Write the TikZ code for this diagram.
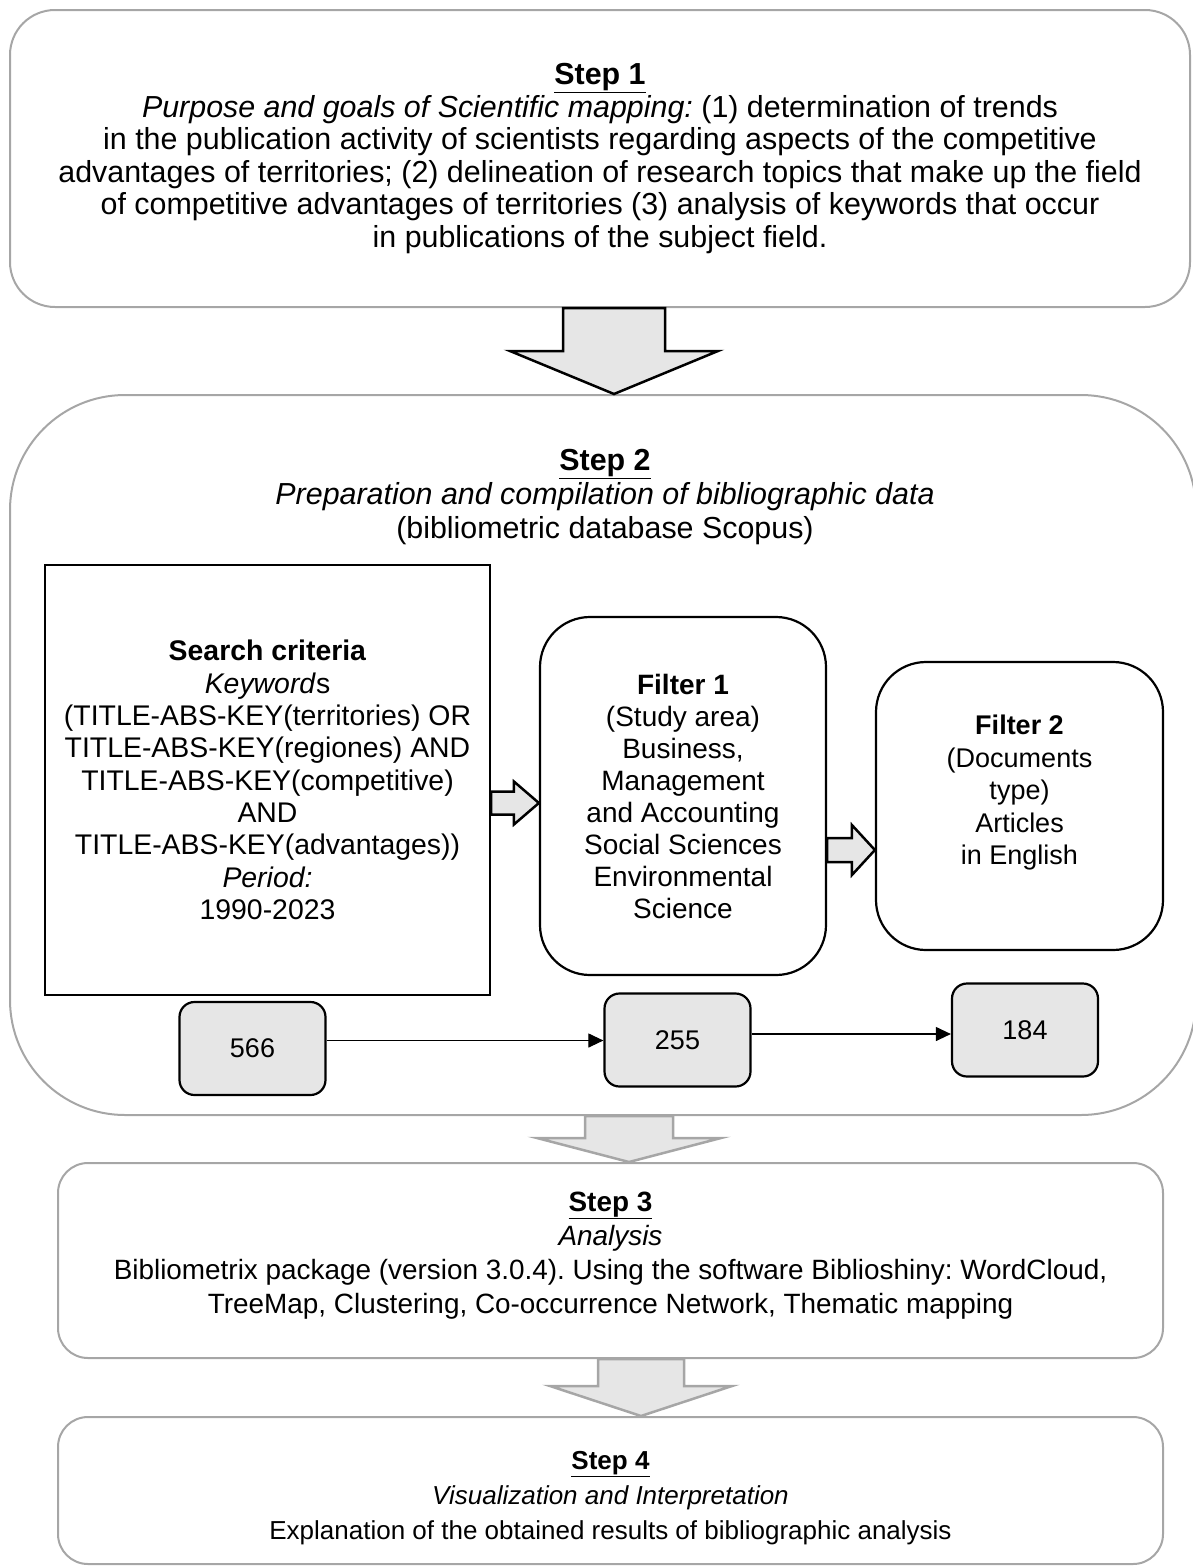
\documentclass[tikz,border=0pt]{standalone}
\usepackage{fontspec}
\setmainfont{Liberation Sans}
\frenchspacing
\usetikzlibrary{arrows.meta,calc,positioning}
\definecolor{boxgrey}{HTML}{A6A6A6}
\definecolor{fillgrey}{HTML}{E6E6E6}
% block arrows: style, from, tip, shaft half width, head half width, head length
\newcommand{\downblock}[6]{%
  \draw[#1] let \p1=(#2), \p2=(#3) in
    (\x2-#4,\y1) -- (\x2+#4,\y1) -- (\x2+#4,\y2+#6) -- (\x2+#5,\y2+#6) -- (\x2,\y2)
    -- (\x2-#5,\y2+#6) -- (\x2-#4,\y2+#6) -- cycle;}
\newcommand{\rightblock}[6]{%
  \draw[#1] let \p1=(#2), \p2=(#3) in
    (\x1,\y2+#4) -- (\x2-#6,\y2+#4) -- (\x2-#6,\y2+#5) -- (\x2,\y2)
    -- (\x2-#6,\y2-#5) -- (\x2-#6,\y2-#4) -- (\x1,\y2-#4) -- cycle;}

\begin{document}
\begin{tikzpicture}[x=1pt,y=-1pt,font=\fontsize{26}{32.5}\selectfont,
    stepbox/.style={draw=boxgrey,line width=2pt,inner sep=0pt,align=center},
    innerbox/.style={draw,line width=2.2pt,inner sep=0pt,align=center},
    countbox/.style={draw,line width=2.2pt,fill=fillgrey,rounded corners=15pt,
      minimum width=146pt,minimum height=93pt,inner sep=0pt,
      font=\fontsize{27}{32.5}\selectfont},
    flow/.style={-{Triangle[length=15pt,width=14pt]},line width=1.1pt},
    bigarrow/.style={draw,line width=2.5pt,fill=fillgrey,line join=miter},
    greyarrow/.style={draw=boxgrey,line width=2.5pt,fill=fillgrey,line join=miter}]
\useasboundingbox (0,0) rectangle (1192,1566);

% Step 1
\node[stepbox,rounded corners=45pt,minimum width=1180pt,minimum height=297pt,
  font=\fontsize{30.4}{32.5}\selectfont] (s1) at (600,158.5)
  {\underline{\textbf{Step 1}}\\
   \textit{Purpose and goals of Scientific mapping:} (1) determination of trends\\
   in the publication activity of scientists regarding aspects of the competitive\\
   advantages of territories; (2) delineation of research topics that make up the field\\
   of competitive advantages of territories (3) analysis of keywords that occur\\
   in publications of the subject field.};

% Step 2
\node[stepbox,rounded corners=115pt,minimum width=1186pt,minimum height=720pt] (s2) at (603,755) {};
\node[align=center,font=\fontsize{30.4}{34}\selectfont] (s2title) at (605,497)
  {\underline{\textbf{Step 2}}\\
   \textit{Preparation and compilation of bibliographic data}\\
   (bibliometric database Scopus)};

\node[innerbox,minimum width=445pt,minimum height=430pt,
  font=\fontsize{28.4}{32.3}\selectfont] (search) at (267.5,780)
  {\textbf{Search criteria}\\
   \textit{Keyword}s\\
   (TITLE-ABS-KEY(territories) OR\\
   TITLE-ABS-KEY(regiones) AND\\
   TITLE-ABS-KEY(competitive)\\
   AND\\
   TITLE-ABS-KEY(advantages))\\
   \textit{Period:}\\
   1990-2023};
\node[innerbox,rounded corners=50pt,minimum width=286pt,minimum height=358pt,
  font=\fontsize{28}{32}\selectfont] (filter1) at (683,796)
  {\textbf{Filter 1}\\
   (Study area)\\
   Business,\\
   Management\\
   and Accounting\\
   Social Sciences\\
   Environmental\\
   Science};
\node[innerbox,rounded corners=50pt,minimum width=287pt,minimum height=288pt] (filter2) at (1019.5,806) {};
\node[align=center,font=\fontsize{27}{32.5}\selectfont] (filter2text) at ([yshift=13pt]filter2.center)
  {\textbf{Filter 2}\\
   (Documents\\
   type)\\
   Articles\\
   in English};

\rightblock{bigarrow}{search.east}{[yshift=-7pt]filter1.west}{11.5pt}{21.5pt}{25pt}
\rightblock{bigarrow}{filter1.east}{[yshift=-44pt]filter2.west}{12pt}{25pt}{23pt}

\node[countbox] (n566) at (252.5,1048.5) {566};
\node[countbox] (n255) at (677.5,1040) {255};
\node[countbox] (n184) at (1025,1030) {184};
\draw[flow] ([yshift=8pt]n566.east) -- ([yshift=8pt]n566.east -| n255.west);
\draw[flow] ([yshift=6pt]n255.east) -- ([yshift=6pt]n255.east -| n184.west);

% Step 3
\node[stepbox,rounded corners=30pt,minimum width=1105pt,minimum height=195pt] (s3) at (610.5,1260.5) {};
\node[align=center,font=\fontsize{27.9}{34}\selectfont] (s3text) at ([yshift=5pt]s3.center)
  {\underline{\textbf{Step 3}}\\
   \textit{Analysis}\\
   Bibliometrix package (version 3.0.4). Using the software Biblioshiny: WordCloud,\\
   TreeMap, Clustering, Co-occurrence Network, Thematic mapping};

% Step 4
\node[stepbox,rounded corners=30pt,minimum width=1105pt,minimum height=147pt] (s4) at (610.5,1490.5) {};
\node[align=center,font=\fontsize{26}{35}\selectfont] (s4text) at ([yshift=-8pt]s4.center)
  {\underline{\textbf{Step 4}}\\
   \textit{Visualization and Interpretation}\\
   Explanation of the obtained results of bibliographic analysis};

% block arrows between the steps
\downblock{bigarrow}{[xshift=14pt]s1.south}{[xshift=11pt]s2.north}{51pt}{104pt}{43pt}
\downblock{greyarrow}{[xshift=18.5pt]s2.south}{[xshift=18.5pt]s3.north}{44pt}{92pt}{24pt}
\downblock{greyarrow}{[xshift=30.5pt]s3.south}{[xshift=30.5pt]s4.north}{43pt}{91pt}{30pt}
\end{tikzpicture}
\end{document}
